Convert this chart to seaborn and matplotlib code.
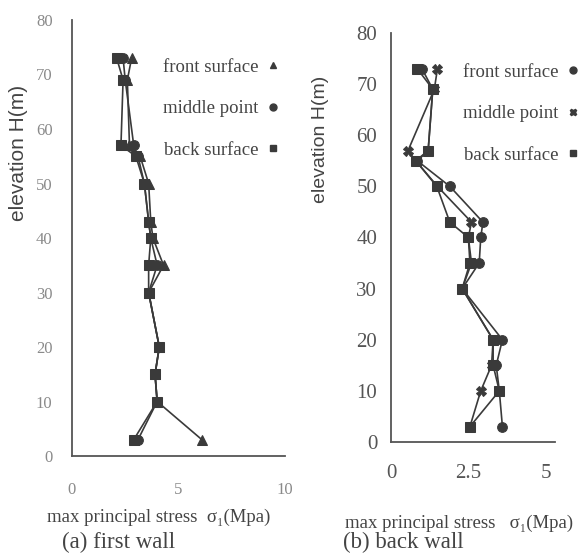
import pandas as pd
import matplotlib
matplotlib.use('Agg')
import matplotlib.pyplot as plt
from matplotlib.lines import Line2D
import seaborn as sns

# elevations (m) of the sampled points, top to bottom
elev = [73, 69, 57, 55, 50, 43, 40, 35, 30, 20, 15, 10, 3]

# (a) first wall, max principal stress (MPa)
a_front = [2.8, 2.6, 2.7, 3.2, 3.6, 3.7, 3.8, 4.3, 3.6, 4.1, 3.9, 4.0, 6.1]
a_middle = [2.4, 2.5, 2.9, 3.1, 3.4, 3.6, 3.7, 4.0, 3.6, 4.1, 3.9, 4.0, 3.1]
a_back = [2.1, 2.4, 2.3, 3.0, 3.4, 3.6, 3.7, 3.6, 3.6, 4.1, 3.9, 4.0, 2.9]

# (b) back wall
b_front = [1.0, 1.35, 1.2, 0.85, 1.9, 2.97, 2.9, 2.85, 2.3, 3.6, 3.4, 3.5, 3.6]
b_middle = [1.5, 1.4, 0.55, 0.8, 1.5, 2.6, 2.5, 2.6, 2.3, 3.3, 3.25, 2.9, 2.55]
b_back = [0.85, 1.35, 1.2, 0.8, 1.48, 1.9, 2.5, 2.55, 2.3, 3.3, 3.3, 3.5, 2.55]

surfaces = ['front surface', 'middle point', 'back surface']


def long_table(front, middle, back):
    rows = []
    for name, vals in zip(surfaces, [front, middle, back]):
        for h, s in zip(elev, vals):
            rows.append({'surface': name, 'H': h, 'stress': s})
    return pd.DataFrame(rows)


df_a = long_table(a_front, a_middle, a_back)
df_b = long_table(b_front, b_middle, b_back)

sns.set_style('white')
plt.rcParams['font.family'] = ['Liberation Serif', 'DejaVu Serif']
ink = '#3a3a3a'
txt = '#444444'

fig = plt.figure(figsize=(5.88, 5.57), dpi=100)
ax1 = fig.add_axes([0.1224, 0.1813, 0.3622, 0.7828])
ax2 = fig.add_axes([0.665, 0.2065, 0.2789, 0.7343])

marks_a = {'front surface': '^', 'middle point': 'o', 'back surface': 's'}
marks_b = {'front surface': 'o', 'middle point': 'X', 'back surface': 's'}

panels = [(ax1, df_a, marks_a, (0, 10), [0, 5, 10], (0.277, 0.895)),
          (ax2, df_b, marks_b, (0, 5.3), [0, 2.5, 5], (0.787, 0.886))]
for ax, df, marks, xlim, xt, anchor in panels:
    sns.lineplot(data=df, x='stress', y='H', style='surface', markers=marks,
                 dashes=False, color=ink, sort=False, estimator=None,
                 orient='y', markersize=7, linewidth=1.2,
                 markeredgecolor=ink, legend=False, ax=ax)
    ax.set_xlim(*xlim)
    ax.set_ylim(0, 80)
    ax.set_xticks(xt)
    ax.set_yticks(range(0, 81, 10))
    ax.set_xlabel('')
    ax.set_ylabel('')
    sns.despine(ax=ax)
    for sp in ['left', 'bottom']:
        ax.spines[sp].set_color('#555555')
        ax.spines[sp].set_linewidth(1.3)
    ax.tick_params(direction='in', length=3, colors='#999999')
    handles = [Line2D([], [], linestyle='none', marker=marks[s], color=ink,
                      markersize=5) for s in surfaces]
    ax.legend(handles, surfaces, markerfirst=False, frameon=False,
              handlelength=0.6, handletextpad=0.5, labelspacing=1.3,
              loc='upper left', bbox_to_anchor=anchor,
              bbox_transform=fig.transFigure, borderpad=0, borderaxespad=0,
              prop={'size': 13.5}, labelcolor=txt)

ax1.tick_params(labelsize=12, labelcolor='#8a8a8a')
ax1.tick_params(axis='y', pad=14)
ax1.tick_params(axis='x', pad=19)
ax2.tick_params(labelsize=15, labelcolor='#555555')
ax2.tick_params(axis='y', pad=10)
ax2.tick_params(axis='x', pad=16)
ax2.set_xticklabels(['0', '2.5', '5'])

fig.text(0.031, 1 - 153 / 557, 'elevation H(m)', rotation=90, ha='center',
         va='center', family='Liberation Sans', fontsize=15, color=txt)
fig.text(0.545, 1 - 139 / 557, 'elevation H(m)', rotation=90, ha='center',
         va='center', family='Liberation Sans', fontsize=14, color=txt)

fig.text(0.080, 0.0718, 'max principal stress  σ₁(Mpa)', va='center',
         fontsize=13.5, color=txt)
fig.text(0.105, 0.027, '(a) first wall', va='center', fontsize=16.5,
         color=txt)
fig.text(0.587, 0.061, 'max principal stress   σ₁(Mpa)', va='center',
         fontsize=13.5, color=txt)
fig.text(0.583, 0.027, '(b) back wall', va='center', fontsize=16.5,
         color=txt)

fig.savefig('out.png', dpi=100, facecolor='white')
